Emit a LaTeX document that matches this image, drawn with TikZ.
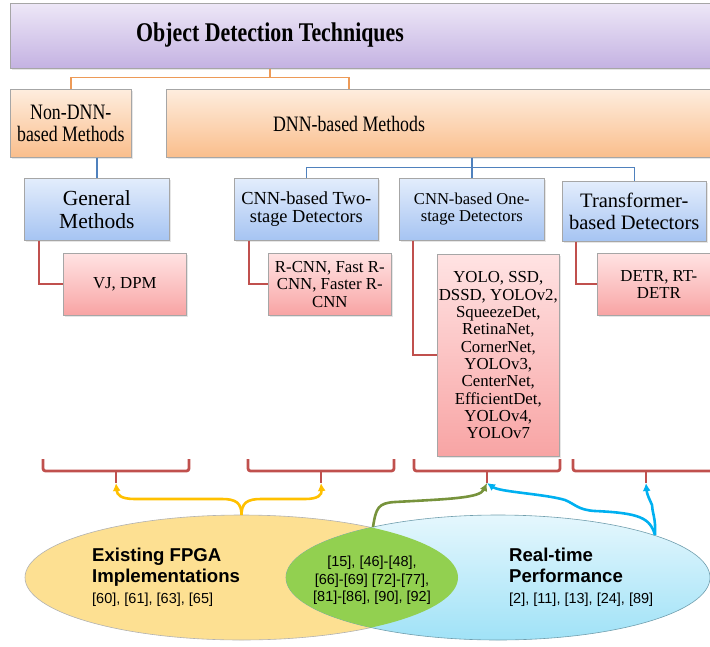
\documentclass[tikz,border=0pt]{standalone}
\usepackage{fontspec}
\setmainfont{Liberation Serif}
\setsansfont{Liberation Sans}
\newfontfamily\narrowserif[FakeStretch=0.81]{Liberation Serif}
\usetikzlibrary{arrows.meta,shadows}

\definecolor{purtop}{RGB}{237,231,247}
\definecolor{purbot}{RGB}{196,178,226}
\definecolor{ortop}{RGB}{254,237,222}
\definecolor{orbot}{RGB}{250,190,140}
\definecolor{bltop}{RGB}{227,237,252}
\definecolor{blbot}{RGB}{166,196,242}
\definecolor{rdtop}{RGB}{255,227,227}
\definecolor{rdbot}{RGB}{248,164,164}
\definecolor{orline}{RGB}{237,154,87}
\definecolor{blline}{RGB}{79,129,189}
\definecolor{rdline}{RGB}{192,80,77}
\definecolor{fpgafill}{RGB}{253,224,146}
\definecolor{bothfill}{RGB}{146,208,80}
\definecolor{rttop}{RGB}{229,247,253}
\definecolor{rtbot}{RGB}{160,226,247}
\definecolor{yarrow}{RGB}{255,192,0}
\definecolor{garrow}{RGB}{119,147,60}
\definecolor{barrow}{RGB}{0,176,240}

\newcommand{\titlefont}{\narrowserif\bfseries\fontsize{27}{30}\selectfont}
\newcommand{\bigfont}{\narrowserif\fontsize{22}{22}\selectfont}
\newcommand{\refsfont}{\sffamily\fontsize{14.5}{17.5}\selectfont}
\newcommand{\headfont}{\sffamily\bfseries\fontsize{18.6}{21}\selectfont}

\tikzset{box/.style={draw=black!35, line width=.6pt, inner sep=0pt, align=center,
           anchor=north west,
           drop shadow={shadow xshift=1.2pt, shadow yshift=-1.2pt, opacity=.2}},
         titlebox/.style={box, top color=purtop, bottom color=purbot},
         obox/.style={box, top color=ortop, bottom color=orbot},
         bbox/.style={box, top color=bltop, bottom color=blbot},
         rbox/.style={box, top color=rdtop, bottom color=rdbot,
           font=\fontsize{16.8}{17.3}\selectfont},
         oline/.style={draw=orline, line width=1.6pt},
         bline/.style={draw=blline, line width=1.6pt},
         rline/.style={draw=rdline, line width=1.8pt},
         brk/.style={draw=rdline, line width=2.8pt, rounded corners=2.5pt},
         tip/.style={-{Latex[length=8pt,width=8pt]}, line width=2.6pt},
         yarr/.style={tip, draw=yarrow},
         garr/.style={tip, draw=garrow},
         barr/.style={tip, draw=barrow}}

\begin{document}
\begin{tikzpicture}[x=1pt, y=-1pt]
  \useasboundingbox (0,0) rectangle (710,646);
  \clip (0,0) rectangle (710,646);

  \node[titlebox, minimum width=720, minimum height=65] (title) at (10,3) {};
  \node[font=\titlefont] (titletxt) at (270,35.5) {Object Detection Techniques};

  \node[obox, minimum width=121, minimum height=68, font=\bigfont] (nondnn) at (10,89) {Non-DNN-\\based Methods};
  \node[obox, minimum width=560, minimum height=68] (dnn) at (166,89) {};
  \node[font=\bigfont] (dnntxt) at (349,124) {DNN-based Methods};

  \node[bbox, minimum width=145, minimum height=62, font=\fontsize{21.5}{23}\selectfont] (general) at (24,178) {General\\Methods};
  \node[bbox, minimum width=144, minimum height=62, font=\fontsize{18.4}{18.5}\selectfont] (twostage) at (234,178) {CNN-based Two-\\stage Detectors};
  \node[bbox, minimum width=145, minimum height=62, font=\fontsize{16.6}{17}\selectfont] (onestage) at (399,178) {CNN-based One-\\stage Detectors};
  \node[bbox, minimum width=144, minimum height=60, font=\fontsize{20.5}{21.5}\selectfont] (trans) at (562,181) {Transformer-\\based Detectors};

  \node[rbox, minimum width=123, minimum height=62] (vjdpm) at (63,253) {VJ, DPM};
  \node[rbox, minimum width=123, minimum height=62] (rcnn) at (268,253) {R-CNN, Fast R-\\CNN, Faster R-\\CNN};
  \node[rbox, minimum width=122, minimum height=202] (yolo) at (437,254) {YOLO, SSD,\\DSSD, YOLOv2,\\SqueezeDet,\\RetinaNet,\\CornerNet,\\YOLOv3,\\CenterNet,\\EfficientDet,\\YOLOv4,\\YOLOv7};
  \node[rbox, minimum width=123, minimum height=62] (detr) at (597,253) {DETR, RT-\\DETR};

  \draw[oline] (titletxt |- title.south) -- ++(0,9) coordinate (tj);
  \draw[oline] (tj) -| (nondnn.north);
  \draw[oline] (tj) -| (dnntxt |- dnn.north);

  \draw[bline] (nondnn.south -| general.north) -- (general.north);
  \draw[bline] (onestage.north |- dnn.south) -- ++(0,10) coordinate (dj);
  \draw[bline] (dj) -| (twostage.north);
  \draw[bline] (dj) -- (onestage.north);
  \draw[bline] (dj) -| (trans.north);

  \draw[rline] ([xshift=15pt]general.south west) |- (vjdpm.west);
  \draw[rline] ([xshift=15pt]twostage.south west) |- (rcnn.west);
  \draw[rline] ([xshift=14pt]onestage.south west) |- (yolo.west);
  \draw[rline] ([xshift=14pt]trans.south west) |- (detr.west);

  \foreach \bx/\nm in {43/b1, 248/b2, 414/b3, 573/b4}{
    \draw[brk] (\bx,459) |- (\bx+146,471) -- (\bx+146,459);
    \draw[brk, rounded corners=0pt] (\bx+73,470) -- (\bx+73,483) coordinate (\nm);
  }

  \fill[fpgafill, draw=black!30, line width=.6pt] (241.5,577.5) ellipse [x radius=216.5, y radius=62.5];
  \shade[top color=rttop, bottom color=rtbot, draw=black!30!rtbot, line width=.6pt] (498,577.5) ellipse [x radius=212, y radius=62.5];
  \begin{scope}
    \clip (241.5,577.5) ellipse [x radius=216.5, y radius=62.5];
    \fill[bothfill] (498,577.5) ellipse [x radius=212, y radius=62.5];
  \end{scope}

  \coordinate (fpgatop) at (241.5,515);
  \coordinate (bothtop) at (373,527);
  \coordinate (rttop) at (655,535);

  \node[font=\headfont, align=left, anchor=north west, inner sep=0pt] (fpgatxt) at (92,548) {Existing FPGA\\Implementations};
  \node[font=\refsfont, anchor=base west, inner sep=0pt] (fpgaref) at (92,603) {[60], [61], [63], [65]};
  \node[font=\refsfont, align=center, inner sep=0pt] (bothtxt) at (372,580.5) {[15], [46]-[48],\\{}[66]-[69] [72]-[77],\\{}[81]-[86], [90], [92]};
  \node[font=\headfont, align=left, anchor=north west, inner sep=0pt] (rttxt) at (509,548) {Real-time\\Performance};
  \node[font=\refsfont, anchor=base west, inner sep=0pt] (rtref) at (509,603) {[2], [11], [13], [24], [89]};

  \draw[yarr] (fpgatop) .. controls (241.5,503) and (236,499) .. (222,499) -- (135,499) .. controls (121,499) and (117,495) .. (b1);
  \draw[yarr] (fpgatop) .. controls (241.5,503) and (247,499) .. (261,499) -- (305,499) .. controls (318,499) and (322,495) .. (b2);
  \draw[garr] (bothtop) .. controls (376,508) and (378,503) .. (395,502) .. controls (450,499) and (480,498) .. (b3);
  \draw[barr] (rttop) .. controls (650,518) and (640,513) .. (595,511) .. controls (578,510) and (575,504) .. (565,500) .. controls (545,494) and (500,492) .. (b3);
  \draw[barr] (rttop) .. controls (656,518) and (652,512) .. (652,505) .. controls (650,500) and (647,495) .. (b4);
\end{tikzpicture}
\end{document}
